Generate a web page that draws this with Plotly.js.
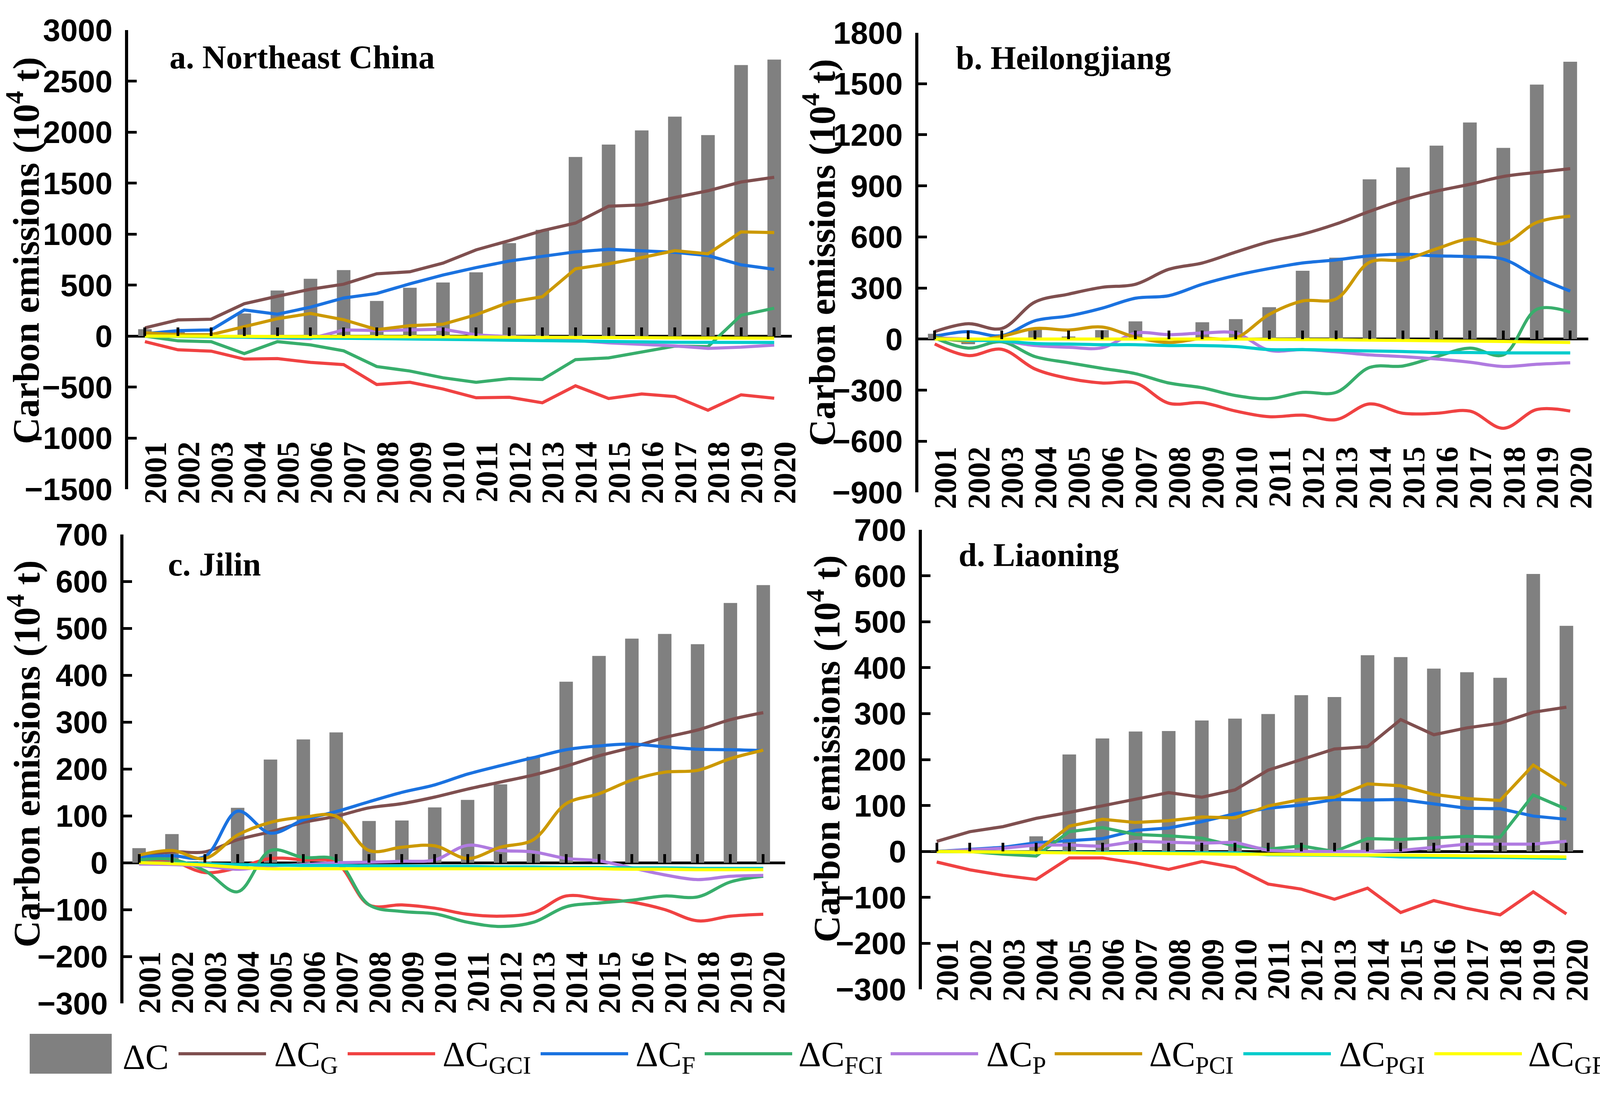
<!DOCTYPE html>
<html><head><meta charset="utf-8">
<script src="https://cdn.plot.ly/plotly-3.0.1.min.js"></script>
<style>html,body{margin:0;padding:0;background:#fff;}</style>
</head><body>
<div id="chart" style="width:4142px;height:2800px"></div>
<script>
const years = [2001,2002,2003,2004,2005,2006,2007,2008,2009,2010,2011,2012,2013,2014,2015,2016,2017,2018,2019,2020];
const seriesKeys = ['C','G','GCI','F','FCI','P','PCI','PGI','GF'];
const seriesNames = ['ΔC','ΔC<sub>G</sub>','ΔC<sub>GCI</sub>','ΔC<sub>F</sub>','ΔC<sub>FCI</sub>','ΔC<sub>P</sub>','ΔC<sub>PCI</sub>','ΔC<sub>PGI</sub>','ΔC<sub>GF</sub>'];
const panelTitles = ['a. Northeast China','b. Heilongjiang','c. Jilin','d. Liaoning'];
const yAxisTitle = 'Carbon emissions (10<sup>4</sup> t)';

// a. Northeast China
const ne_C   = [68,40,10,222,447,562,648,345,474,526,626,912,1042,1756,1878,2017,2152,1971,2657,2711];
const ne_G   = [81,159,166,318,391,460,509,611,631,716,846,936,1034,1108,1274,1286,1359,1425,1511,1557];
const ne_GCI = [-54,-134,-147,-225,-220,-257,-279,-474,-452,-518,-604,-599,-653,-487,-611,-567,-592,-726,-575,-609];
const ne_F   = [24,54,61,257,215,284,374,418,513,599,672,736,782,826,851,838,822,790,699,655];
const ne_FCI = [0,-46,-54,-171,-54,-86,-144,-298,-342,-408,-452,-416,-425,-230,-213,-156,-98,-103,205,274];
const ne_P   = [0,0,-5,-10,-15,-25,61,56,61,68,12,-5,-10,-42,-66,-78,-95,-120,-108,-88];
const ne_PCI = [32,15,15,93,171,222,161,64,103,117,210,333,386,660,709,770,838,807,1022,1015];
const ne_PGI = [0,-3,-5,-8,-12,-15,-18,-22,-25,-28,-35,-40,-45,-50,-55,-58,-60,-61,-62,-62];
const ne_GF  = [0,0,0,0,0,-2,-3,-5,-5,-6,-8,-8,-10,-12,-14,-15,-17,-18,-19,-20];

// b. Heilongjiang
const hlj_C   = [31,-30,5,62,15,53,104,3,99,117,187,401,478,938,1008,1136,1272,1123,1495,1629];
const hlj_G   = [44,90,62,218,264,304,322,410,447,511,572,616,676,750,817,869,909,955,979,1001];
const hlj_GCI = [-29,-97,-60,-176,-231,-258,-258,-377,-374,-423,-456,-447,-473,-381,-436,-436,-423,-524,-414,-423];
const hlj_F   = [16,44,20,108,136,181,240,255,322,374,414,447,465,489,498,489,484,469,365,282];
const hlj_FCI = [7,-53,-16,-103,-139,-172,-203,-258,-286,-332,-350,-313,-313,-167,-158,-103,-53,-93,175,158];
const hlj_P   = [7,0,-10,-38,-48,-51,35,26,35,35,-66,-62,-75,-93,-103,-117,-136,-161,-148,-139];
const hlj_PCI = [11,-11,16,62,53,71,11,-20,4,7,145,224,236,451,465,530,588,561,685,722];
const hlj_PGI = [4,-7,-11,-26,-29,-33,-33,-38,-38,-44,-62,-62,-66,-70,-73,-79,-79,-81,-81,-81];
const hlj_GF  = [0,0,0,0,0,0,0,0,0,0,-2,-3,-4,-6,-8,-10,-12,-14,-17,-20];

// c. Jilin
const jl_C   = [31,61,3,117,220,263,278,89,90,118,134,167,226,386,441,478,488,466,554,592];
const jl_G   = [13,23,23,49,66,86,99,117,126,140,157,172,187,206,228,246,267,283,305,320];
const jl_GCI = [3,3,-21,-11,9,6,0,-90,-90,-97,-110,-114,-107,-71,-77,-84,-100,-124,-114,-110];
const jl_F   = [13,15,13,110,63,91,109,130,150,166,189,207,224,241,249,253,247,242,241,239];
const jl_FCI = [6,7,-17,-62,26,11,6,-90,-104,-109,-127,-136,-127,-94,-86,-80,-71,-73,-41,-29];
const jl_P   = [-3,-4,-7,-14,-7,-4,0,1,3,6,37,26,23,9,4,-11,-26,-36,-29,-27];
const jl_PCI = [16,26,9,59,86,97,99,26,33,36,9,33,49,126,147,176,193,197,222,240];
const jl_PGI = [0,-1,-2,-4,-5,-6,-6,-7,-7,-8,-8,-9,-9,-10,-10,-11,-11,-12,-12,-12];
const jl_GF  = [0,-2,-5,-10,-13,-13,-13,-13,-13,-13,-13,-13,-13,-13,-13,-14,-14,-15,-15,-15];

// d. Liaoning
const ln_C   = [1,2,2,33,211,246,261,262,285,289,299,340,336,427,423,398,390,378,604,491];
const ln_G   = [22,43,54,72,85,99,113,128,118,134,177,200,223,228,287,254,269,279,303,314];
const ln_GCI = [-23,-40,-52,-61,-14,-14,-25,-39,-22,-35,-71,-82,-104,-80,-133,-107,-124,-138,-88,-136];
const ln_F   = [0,4,9,19,24,28,46,51,65,82,94,101,113,112,113,103,94,93,77,70];
const ln_FCI = [0,0,-6,-10,43,52,37,34,29,12,5,12,0,28,26,29,33,31,123,92];
const ln_P   = [0,4,7,14,14,11,22,20,18,20,2,0,0,0,2,9,16,16,16,22];
const ln_PCI = [0,0,0,-1,55,70,63,67,75,73,99,113,118,147,143,124,115,111,188,143];
const ln_PGI = [0,-1,-1,-2,-2,-2,-3,-3,-3,-3,-7,-8,-8,-9,-12,-13,-13,-13,-14,-15];
const ln_GF  = [0,-1,-2,-3,-3,-4,-4,-5,-5,-6,-6,-7,-7,-8,-8,-9,-10,-10,-11,-12];

const panelData = [
  [ne_C,ne_G,ne_GCI,ne_F,ne_FCI,ne_P,ne_PCI,ne_PGI,ne_GF],
  [hlj_C,hlj_G,hlj_GCI,hlj_F,hlj_FCI,hlj_P,hlj_PCI,hlj_PGI,hlj_GF],
  [jl_C,jl_G,jl_GCI,jl_F,jl_FCI,jl_P,jl_PCI,jl_PGI,jl_GF],
  [ln_C,ln_G,ln_GCI,ln_F,ln_FCI,ln_P,ln_PCI,ln_PGI,ln_GF]
];

// ---------- styles / layout constants ----------
const W = 4142, H = 2800;
const barColor = '#808080';
const lineColors = ['#7f4f4f','#f04242','#1a72e0','#38ae6c','#b07be0','#cc9900','#00cccc','#ffff00'];
const panelCfg = [
  {l:328,  r:2027, t:77,   b:1252, xr:[2000.493,2020.531], yr:[-1500,3000], dt:500, shape:'linear', labelTop:1117, tx:432,  ty:146,  yx:60,   yy:642},
  {l:2351, r:4066, t:83.5, b:1260, xr:[2000.51,2020.54],   yr:[-900,1800],  dt:300, shape:'spline', labelTop:1130, tx:2445, ty:149,  yx:2098, yy:647},
  {l:316,  r:2010, t:1368, b:2568, xr:[2000.524,2020.666], yr:[-300,700],   dt:100, shape:'spline', labelTop:2422, tx:428,  ty:1444, yx:62,   yy:1930},
  {l:2360, r:4053, t:1356, b:2532, xr:[2000.552,2020.507], yr:[-300,700],   dt:100, shape:'linear', labelTop:2390, tx:2452, ty:1420, yx:2110, yy:1917}
];
const legendBox = {x0:76, x1:286, y0:2646, y1:2748};
const legendLineY = 2697, legendLineLen = 224;
const legendLineStarts = [457,890,1384,1804,2280,2700,3183,3672];
const legendTextStarts = [312,700,1131,1625,2042,2523,2940,3426,3910];

const px2x = v => v / W;
const px2y = v => 1 - v / H;

const traces = [];
const layout = {
  width: W, height: H,
  margin: {l:0, r:0, t:0, b:0},
  paper_bgcolor: '#ffffff', plot_bgcolor: 'rgba(0,0,0,0)',
  showlegend: false,
  annotations: [], shapes: []
};

panelCfg.forEach((p, i) => {
  const n = i + 1, nt = i + 5;
  const xa = n === 1 ? 'x' : 'x' + n;
  const ya = n === 1 ? 'y' : 'y' + n;
  const xt = 'x' + nt;
  const d = panelData[i];
  const dom = [px2y(p.b), px2y(p.t)];

  traces.push({type:'bar', x: years, y: d[0], xaxis: xa, yaxis: ya,
    marker:{color: barColor, line:{width:0}}, width: 0.41, hoverinfo:'skip'});
  for (let k = 1; k < d.length; k++) {
    traces.push({type:'scatter', mode:'lines', x: years, y: d[k], xaxis: xa, yaxis: ya,
      line:{color: lineColors[k-1], width: 8, shape: p.shape, smoothing: 1}, hoverinfo:'skip'});
  }
  // invisible carrier trace for the tick axis drawn on the zero line
  traces.push({type:'scatter', mode:'lines', x: years, y: d[0], xaxis: xt, yaxis: ya,
    line:{width:0}, opacity:0, hoverinfo:'skip'});

  const zeroFrac = dom[0] + (0 - p.yr[0]) / (p.yr[1] - p.yr[0]) * (dom[1] - dom[0]);

  layout['xaxis' + (n === 1 ? '' : n)] = {
    domain: [px2x(p.l), px2x(p.r)], range: p.xr, anchor: 'free',
    position: px2y(p.labelTop - 4),
    tickmode:'array', tickvals: years, ticktext: years.map(String),
    tickangle: -90, ticks:'', showline:false, showgrid:false, zeroline:false,
    ticklabelshift: 28,
    layer: n === 1 ? 'below traces' : 'above traces',
    tickfont:{family:'Liberation Serif, serif', size:80, color:'#000', weight:700}
  };
  layout['xaxis' + nt] = {
    overlaying: xa, anchor:'free', position: zeroFrac, side:'bottom',
    range: p.xr, tickmode:'array', tickvals: years, showticklabels:false,
    ticks:'inside', ticklen:22, tickwidth:7, tickcolor:'#000',
    showline:false, showgrid:false, zeroline:false
  };
  layout['yaxis' + (n === 1 ? '' : n)] = {
    domain: dom, range: p.yr, anchor: xa, dtick: p.dt, tick0: 0,
    ticks:'inside', ticklen:22, tickwidth:7, tickcolor:'#000',
    showline:true, linewidth:8, linecolor:'#000',
    showgrid:false, zeroline:true, zerolinecolor:'#000', zerolinewidth:7,
    ticklabelstandoff: 16,
    tickfont:{family:'Liberation Sans, Arial, sans-serif', size:80, color:'#000', weight:700}
  };

  layout.annotations.push({
    xref:'paper', yref:'paper', x: px2x(p.tx), y: px2y(p.ty), xanchor:'left', yanchor:'middle',
    text: panelTitles[i], showarrow:false,
    font:{family:'Liberation Serif, serif', size:84, color:'#000', weight:700}
  });
  layout.annotations.push({
    xref:'paper', yref:'paper', x: px2x(p.yx), y: px2y(p.yy), xanchor:'center', yanchor:'middle',
    text: yAxisTitle, textangle:-90, showarrow:false,
    font:{family:'Liberation Serif, serif', size:95, color:'#000', weight:700}
  });
});

// legend (drawn manually to match the wide keys)
layout.shapes.push({type:'rect', xref:'paper', yref:'paper',
  x0: px2x(legendBox.x0), x1: px2x(legendBox.x1), y0: px2y(legendBox.y1), y1: px2y(legendBox.y0),
  fillcolor: barColor, line:{width:0}});
legendLineStarts.forEach((s, k) => {
  layout.shapes.push({type:'line', xref:'paper', yref:'paper',
    x0: px2x(s), x1: px2x(s + legendLineLen), y0: px2y(legendLineY), y1: px2y(legendLineY),
    line:{color: lineColors[k], width: 8}});
});
legendTextStarts.forEach((s, k) => {
  layout.annotations.push({xref:'paper', yref:'paper', x: px2x(s), y: px2y(legendLineY + 8),
    xanchor:'left', yanchor:'middle', text: seriesNames[k], showarrow:false,
    font:{family:'Liberation Serif, serif', size:90, color:'#000'}});
});

Plotly.newPlot('chart', traces, layout, {staticPlot:true, displayModeBar:false});
</script>
</body></html>
